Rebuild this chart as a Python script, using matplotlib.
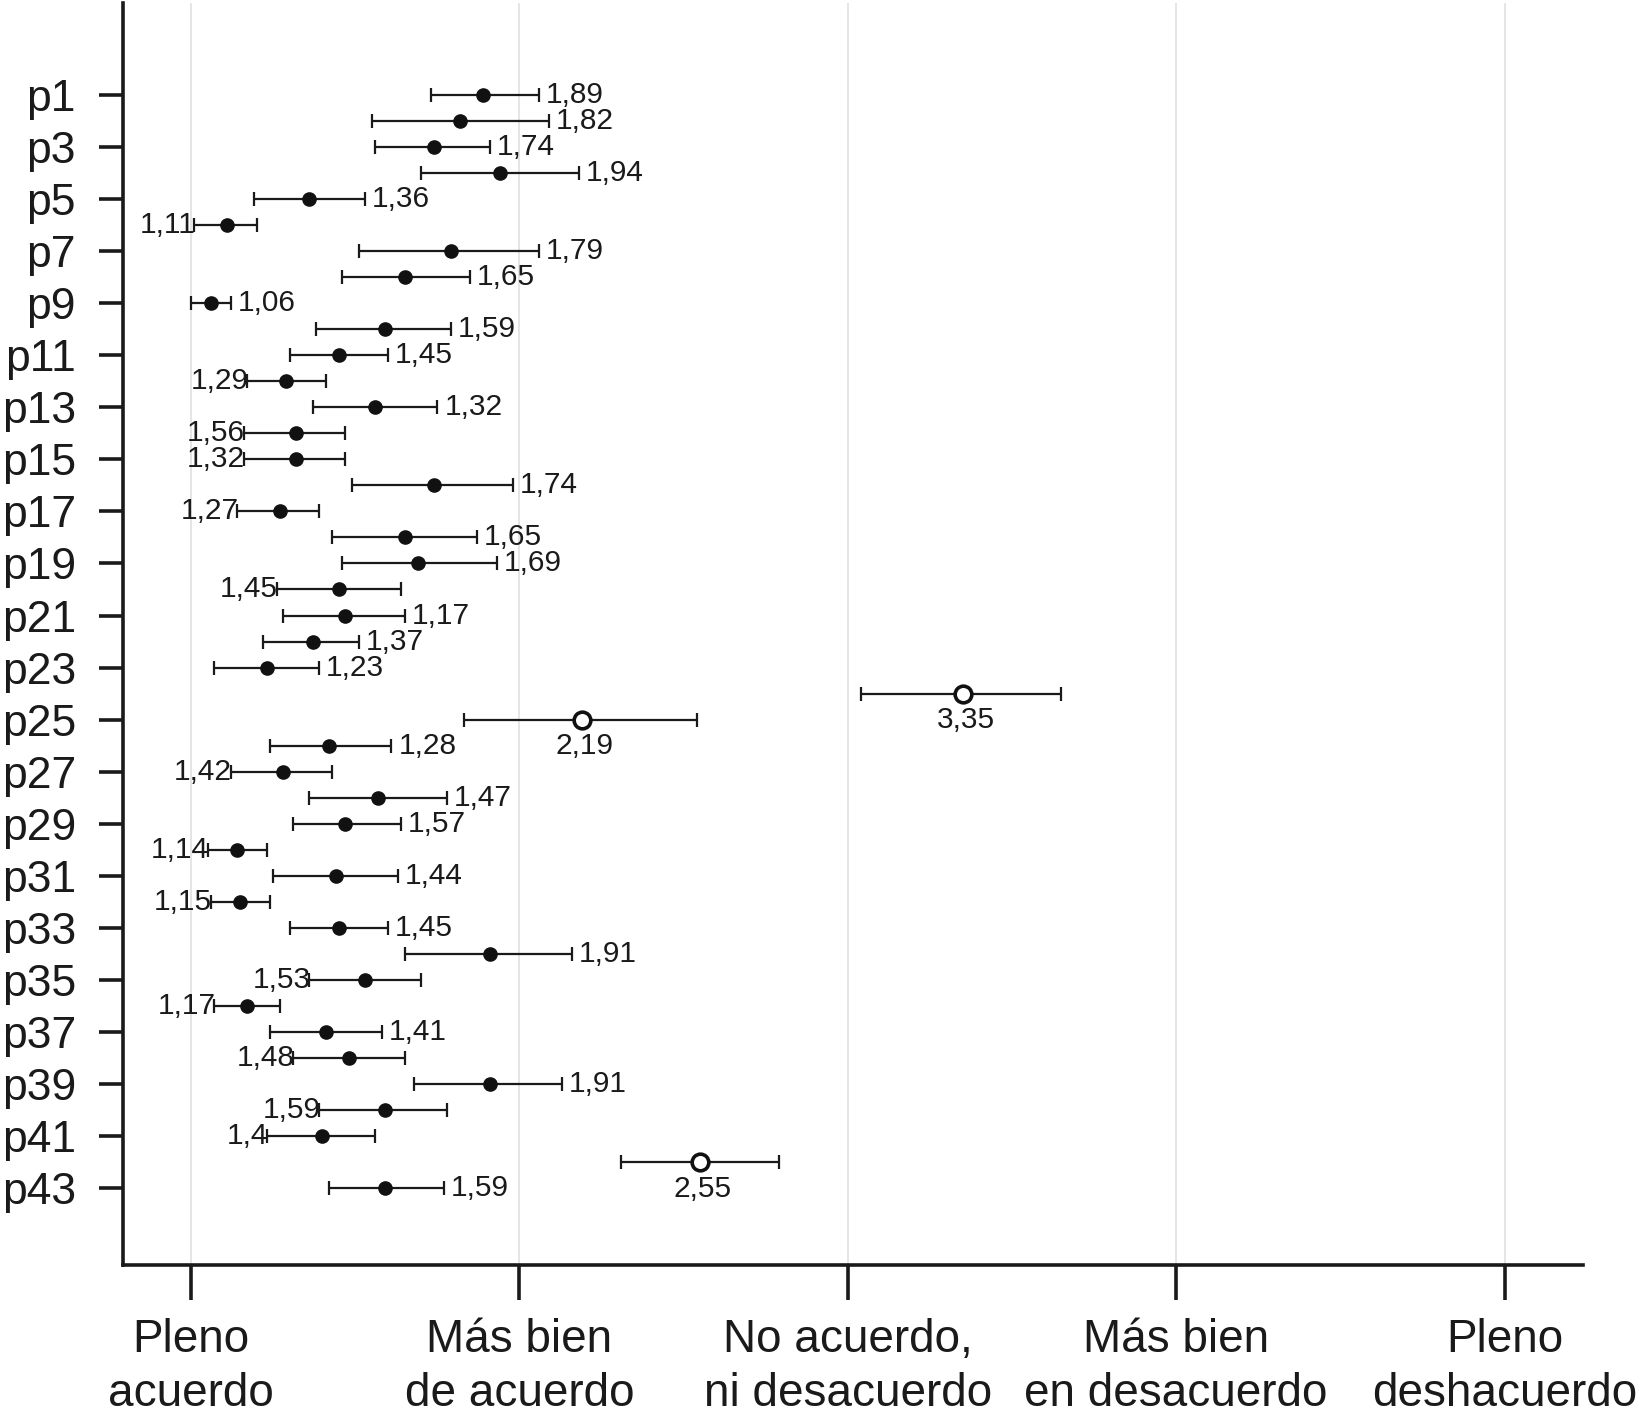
import numpy as np
import matplotlib.pyplot as plt

plt.rcParams['font.family'] = ['Liberation Sans', 'DejaVu Sans']

# data (1 = pleno acuerdo ... 5 = pleno desacuerdo)
items = [f"p{i}" for i in range(1, 44)]
means = [1.89, 1.82, 1.74, 1.94, 1.36, 1.11, 1.79, 1.65, 1.06, 1.59,
         1.45, 1.29, 1.56, 1.32, 1.32, 1.74, 1.27, 1.65, 1.69, 1.45,
         1.47, 1.37, 1.23, 3.35, 2.19, 1.42, 1.28, 1.57, 1.47, 1.14,
         1.44, 1.15, 1.45, 1.91, 1.53, 1.17, 1.41, 1.48, 1.91, 1.59,
         1.40, 2.55, 1.59]
low = [1.73, 1.55, 1.56, 1.70, 1.19, 1.01, 1.51, 1.46, 1.00, 1.38,
       1.30, 1.17, 1.37, 1.16, 1.16, 1.49, 1.14, 1.43, 1.46, 1.26,
       1.28, 1.22, 1.07, 3.04, 1.83, 1.24, 1.12, 1.36, 1.31, 1.05,
       1.25, 1.06, 1.30, 1.65, 1.36, 1.07, 1.24, 1.31, 1.68, 1.39,
       1.23, 2.31, 1.42]
high = [2.06, 2.09, 1.91, 2.18, 1.53, 1.20, 2.06, 1.85, 1.12, 1.79,
        1.60, 1.41, 1.75, 1.47, 1.47, 1.98, 1.39, 1.87, 1.93, 1.64,
        1.65, 1.51, 1.39, 3.65, 2.54, 1.61, 1.43, 1.78, 1.64, 1.23,
        1.63, 1.24, 1.60, 2.16, 1.70, 1.27, 1.58, 1.65, 2.13, 1.78,
        1.56, 2.79, 1.77]
value_labels = ["1,89", "1,82", "1,74", "1,94", "1,36", "1,11", "1,79", "1,65", "1,06", "1,59",
                "1,45", "1,29", "1,32", "1,56", "1,32", "1,74", "1,27", "1,65", "1,69", "1,45",
                "1,17", "1,37", "1,23", "3,35", "2,19", "1,28", "1,42", "1,47", "1,57", "1,14",
                "1,44", "1,15", "1,45", "1,91", "1,53", "1,17", "1,41", "1,48", "1,91", "1,59",
                "1,4", "2,55", "1,59"]
# where each value label sits: r = right of bar, l = left of bar, b = below point
label_side = list("rrrrrlrrrrrlrllrlrrlrrrbbrlrrlrlrrllrlrllbr")
hollow = [24, 25, 42]
scale_labels = ["Pleno\nacuerdo", "Más bien\nde acuerdo", "No acuerdo,\nni desacuerdo",
                "Más bien\nen desacuerdo", "Pleno\ndeshacuerdo"]

fig = plt.figure(figsize=(16.36, 14.22), dpi=100)
ax = fig.add_axes([0.0753, 0.1104, 0.8923, 0.8875])

pos = np.arange(1, len(items) + 1)
m = np.array(means); lo = np.array(low); hi = np.array(high)
ax.errorbar(m, pos, xerr=[m - lo, hi - m], fmt='none', ecolor='#1a1a1a',
            elinewidth=1.6, capsize=5, capthick=1.6, zorder=2)

is_hollow = np.array([i in hollow for i in pos])
ax.plot(m[~is_hollow], pos[~is_hollow], 'o', color='#111111', ms=9.5, zorder=3)
ax.plot(m[is_hollow], pos[is_hollow], 'o', mfc='white', mec='#111111', mew=2.6, ms=12, zorder=3)

for i in range(len(items)):
    s = label_side[i]
    if s == 'r':
        ax.annotate(value_labels[i], (hi[i], pos[i]), xytext=(5, 0), textcoords='offset points',
                    ha='left', va='center', fontsize=21.5, color='#1a1a1a')
    elif s == 'l':
        ax.annotate(value_labels[i], (lo[i], pos[i]), xytext=(1, 0), textcoords='offset points',
                    ha='right', va='center', fontsize=21.5, color='#1a1a1a')
    else:
        ax.annotate(value_labels[i], (m[i], pos[i]), xytext=(2, -9), textcoords='offset points',
                    ha='center', va='top', fontsize=21.5, color='#1a1a1a')

ax.set_xlim(0.793, 5.239)
ax.set_ylim(45.95, -2.53)
ax.set_yticks(pos[::2])
ax.set_yticklabels(items[::2], fontsize=32)
ax.set_xticks([1, 2, 3, 4, 5])
ax.set_xticklabels(scale_labels, fontsize=33, linespacing=1.3)
ax.grid(axis='x', color='#e3e3e3', lw=1.3, zorder=0)
ax.set_axisbelow(True)

for sp in ['top', 'right']:
    ax.spines[sp].set_visible(False)
for sp in ['left', 'bottom']:
    ax.spines[sp].set_linewidth(2.6)
    ax.spines[sp].set_color('#1a1a1a')
ax.tick_params(axis='y', length=17, width=2.6, pad=17, colors='#1a1a1a')
ax.tick_params(axis='x', length=25, width=2.6, pad=13, colors='#1a1a1a')

fig.savefig("out.png", dpi=100)
